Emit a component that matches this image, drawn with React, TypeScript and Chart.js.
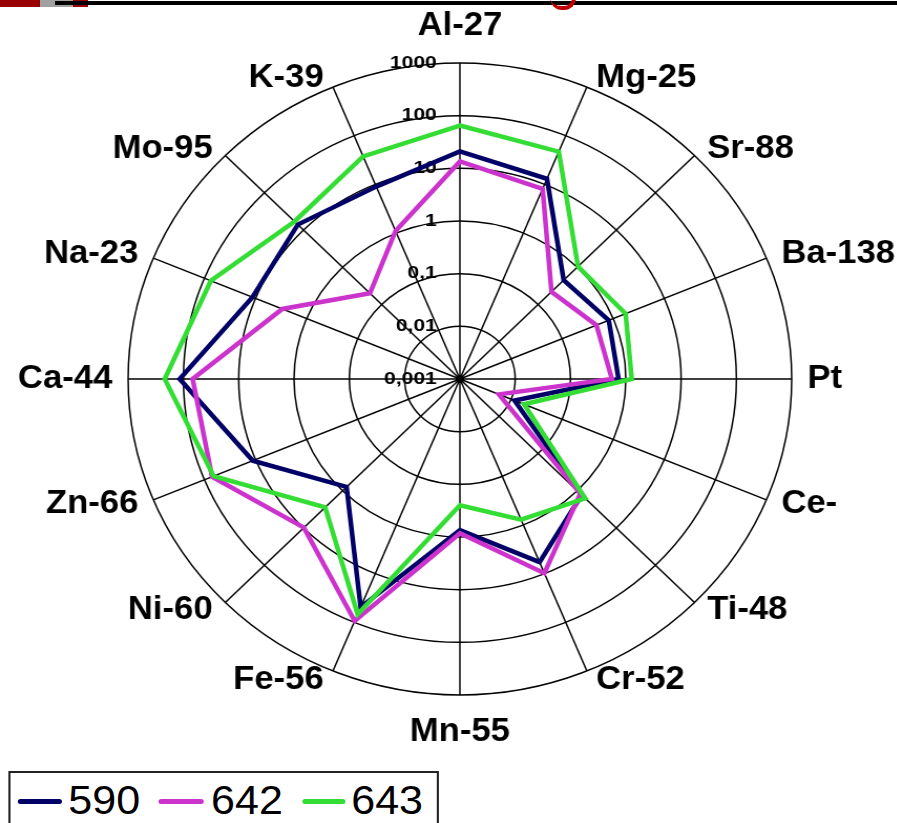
import React, { useEffect, useRef } from "react";
import { Chart, registerables } from "chart.js";
Chart.register(...registerables);

const categories = ["Al-27", "Mg-25", "Sr-88", "Ba-138", "Pt", "Ce-", "Ti-48", "Cr-52", "Mn-55", "Fe-56", "Ni-60", "Zn-66", "Ca-44", "Na-23", "Mo-95", "K-39"];
const seriesNames = ["590", "642", "643"];
const values590 = [21, 13, 0.45, 0.82, 0.74, 0.0117, 1.3, 5.8, 0.74, 49, 0.79, 11.3, 117, 11.5, 14, 9];
const values642 = [13.5, 8.1, 0.22, 0.47, 0.56, 0.0058, 1.2, 9.8, 0.85, 94, 9.8, 71, 68, 3.0, 0.2, 1.1];
const values643 = [65, 47, 1.05, 1.75, 1.28, 0.018, 1.6, 0.78, 0.25, 68, 2.8, 66, 218, 75, 17, 37.5];
const seriesColors = ["#000066", "#CC33CC", "#33DD33"];
const tickValues = [0.001, 0.01, 0.1, 1, 10, 100, 1000];
const tickLabels = ["0,001", "0,01", "0,1", "1", "10", "100", "1000"];

const STRETCH = 1.05;
const W = 860;
const H = 823;
const R = 316;
const CX = 438;
const CY = 379;

const labelPlugin = {
  id: "customLabels",
  beforeDatasetsDraw(chart: any) {
    const s = chart.scales.r;
    const ctx = chart.ctx;
    ctx.save();
    ctx.fillStyle = "#000";
    ctx.beginPath();
    ctx.arc(s.xCenter, s.yCenter, 4, 0, Math.PI * 2);
    ctx.fill();
    ctx.font = "bold 17px 'Liberation Sans', Arial, sans-serif";
    ctx.textAlign = "right";
    ctx.textBaseline = "middle";
    tickValues.forEach((v, i) => {
      const y = s.yCenter - s.getDistanceFromCenterForValue(Math.log10(v));
      ctx.save();
      ctx.translate(s.xCenter - 22, y);
      ctx.scale(1.18, 1);
      ctx.fillText(tickLabels[i], 0, 0);
      ctx.restore();
    });
    ctx.restore();
  },
  afterDraw(chart: any) {
    const s = chart.scales.r;
    const ctx = chart.ctx;
    const labels = chart.data.labels as string[];
    ctx.save();
    ctx.font = "bold 33px 'Liberation Sans', Arial, sans-serif";
    ctx.fillStyle = "#000";
    ctx.textBaseline = "middle";
    labels.forEach((lab, i) => {
      const a = s.getIndexAngle(i);
      const sin = Math.sin(a);
      const cos = Math.cos(a);
      const p = s.getPointPosition(i, s.drawingArea + 10);
      let x = p.x;
      let y = p.y;
      if (Math.abs(sin) < 0.05) {
        ctx.textAlign = "center";
        y += -cos * 27;
      } else if (sin > 0) {
        ctx.textAlign = "left";
        x += 5;
      } else {
        ctx.textAlign = "right";
        x -= 5;
      }
      ctx.fillText(lab, x, y);
    });
    ctx.restore();
  },
};

export default function App() {
  const ref = useRef<HTMLCanvasElement | null>(null);
  useEffect(() => {
    if (!ref.current) return;
    const all = [values590, values642, values643];
    const chart = new Chart(ref.current, {
      type: "radar",
      data: {
        labels: categories,
        datasets: all.map((vals, k) => ({
          label: seriesNames[k],
          data: vals.map((v) => Math.log10(v)),
          borderColor: seriesColors[k],
          backgroundColor: seriesColors[k],
          borderWidth: 4.5,
          pointRadius: 0,
          fill: false,
          tension: 0,
          borderJoinStyle: "miter" as const,
          order: 3 - k,
        })),
      },
      options: {
        responsive: false,
        maintainAspectRatio: false,
        animation: false,
        layout: { padding: { left: CX - R, top: CY - R, right: W - (CX + R), bottom: H - (CY + R) } },
        plugins: { legend: { display: false }, tooltip: { enabled: false } },
        scales: {
          r: {
            min: -3,
            max: 3,
            ticks: { display: false, stepSize: 1 },
            grid: { circular: true, color: "#000", lineWidth: 1.5 },
            angleLines: { color: "#000", lineWidth: 1.5 },
            pointLabels: { display: false },
          },
        },
      },
      plugins: [labelPlugin],
    });
    return () => chart.destroy();
  }, []);

  const legendLines = [
    { left: 17, width: 42 },
    { left: 151, width: 43 },
    { left: 288, width: 41 },
  ];
  const legendTexts = [65, 201, 334.5];

  return (
    <div style={{ position: "fixed", left: 0, top: 0, width: 897, height: 823, overflow: "hidden", background: "#fff" }}>
      <div style={{ position: "absolute", left: 0, top: 0, width: W, height: H, transform: `scaleX(${STRETCH})`, transformOrigin: "0 0" }}>
        <canvas ref={ref} width={W} height={H} style={{ position: "absolute", left: 0, top: 0 }} />
        <div style={{ position: "absolute", left: 7.6, top: 771, width: 410, height: 70, border: "2px solid #222", boxSizing: "border-box", background: "#fff" }} />
        {legendLines.map((l, k) => (
          <div key={"l" + k} style={{ position: "absolute", left: l.left, top: 798.5, width: l.width, height: 5, borderRadius: 3, background: seriesColors[k] }} />
        ))}
        {legendTexts.map((x, k) => (
          <span key={"t" + k} style={{ position: "absolute", left: x, top: 780, fontFamily: "'Liberation Sans', Arial, sans-serif", fontSize: 41, lineHeight: "41px", color: "#000", whiteSpace: "nowrap" }}>
            {seriesNames[k]}
          </span>
        ))}
      </div>
      <div style={{ position: "absolute", left: 0, top: 0, width: 40, height: 7, background: "#990000" }} />
      <div style={{ position: "absolute", left: 40, top: 0, width: 33, height: 7, background: "#A0A0A0" }} />
      <div style={{ position: "absolute", left: 73, top: 0, width: 15, height: 7, background: "#990000" }} />
      <div style={{ position: "absolute", left: 55, top: 1, width: 842, height: 3.5, background: "#000" }} />
      <div style={{ position: "absolute", left: 550, top: -8, width: 22, height: 14, borderBottom: "4px solid #C00000", borderRight: "4px solid #C00000", borderRadius: "0 0 12px 12px" }} />
    </div>
  );
}
